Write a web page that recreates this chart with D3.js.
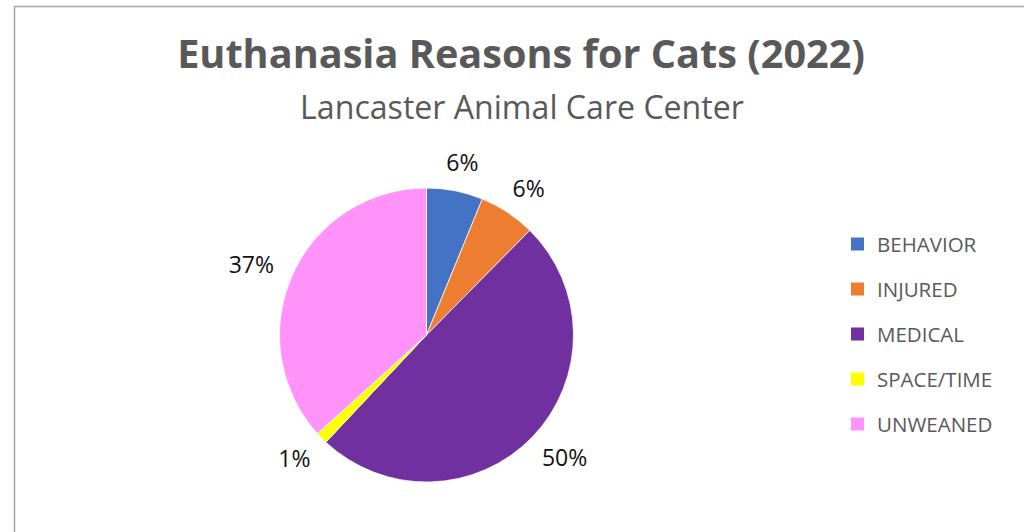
<!DOCTYPE html>
<html><head><meta charset="utf-8">
<script src="https://cdn.jsdelivr.net/npm/d3@7"></script>
<style>html,body{margin:0;padding:0;background:#fff;overflow:hidden}</style>
</head><body>
<svg id="chart" width="1024" height="532"></svg>
<script>
const categories = ["BEHAVIOR", "INJURED", "MEDICAL", "SPACE/TIME", "UNWEANED"];
const values = [6.2, 6.2, 49.6, 1.3, 36.7];
const colors = ["#4472C4", "#ED7D31", "#7030A0", "#FFFF00", "#FF93F9"];
const titleText = "Euthanasia Reasons for Cats (2022)";
const subtitleText = "Lancaster Animal Care Center";

const svg = d3.select("#chart");
svg.append("rect").attr("x", 14.5).attr("y", 6.5).attr("width", 1200).attr("height", 700)
  .attr("fill", "#fff").attr("stroke", "#a6a6a6").attr("stroke-width", 1.5);

function fitText(sel, w) {
  const len = sel.node().getComputedTextLength();
  const fs = parseFloat(sel.attr("font-size"));
  sel.attr("font-size", fs * w / len);
}

const title = svg.append("text").attr("x", 521).attr("y", 68).attr("text-anchor", "middle")
  .attr("font-family", "'Open Sans', sans-serif").attr("font-weight", "bold")
  .attr("font-size", 34).attr("fill", "#595959").text(titleText);
fitText(title, 688);
const sub = svg.append("text").attr("x", 522).attr("y", 119).attr("text-anchor", "middle")
  .attr("font-family", "'Open Sans', sans-serif")
  .attr("font-size", 28).attr("fill", "#595959").text(subtitleText);
fitText(sub, 444);

const cx = 426.5, cy = 335, R = 147;
const total = d3.sum(values);
const pie = d3.pie().sort(null).value(d => d.v);
const data = pie(categories.map((c, i) => ({c, v: values[i], col: colors[i]})));
const arc = d3.arc().innerRadius(0).outerRadius(R);
const g = svg.append("g").attr("transform", `translate(${cx},${cy})`);
g.selectAll("path").data(data).join("path")
  .attr("d", arc).attr("fill", d => d.data.col)
  .attr("stroke", "#fff").attr("stroke-width", 0.75);

const fmt = d3.format(".0%");
const labelR = R + 22;
const lbl = g.selectAll("text.lbl").data(data).join("text").attr("class", "lbl")
  .attr("font-family", "'Open Sans', sans-serif").attr("font-size", 23).attr("fill", "#111")
  .attr("text-anchor", "middle").attr("dominant-baseline", "central")
  .text(d => fmt(d.data.v / total));
lbl.each(function(d) {
  const a = (d.startAngle + d.endAngle) / 2;
  const w = this.getComputedTextLength(), h = 14;
  const x = Math.sin(a) * labelR + Math.sin(a) * w / 2;
  const y = -Math.cos(a) * labelR - Math.cos(a) * h / 2;
  d3.select(this).attr("x", x).attr("y", y);
});

const legend = svg.append("g").attr("transform", "translate(851,244)");
const items = legend.selectAll("g").data(categories).join("g")
  .attr("transform", (d, i) => `translate(0,${i * 45})`);
items.append("rect").attr("x", 0).attr("y", -6.5).attr("width", 13).attr("height", 13)
  .attr("fill", (d, i) => colors[i]);
items.append("text").attr("x", 26).attr("y", 0).attr("dominant-baseline", "central")
  .attr("font-family", "'Open Sans', sans-serif").attr("font-size", 20.5).attr("fill", "#595959")
  .text(d => d);
</script>
</body></html>
